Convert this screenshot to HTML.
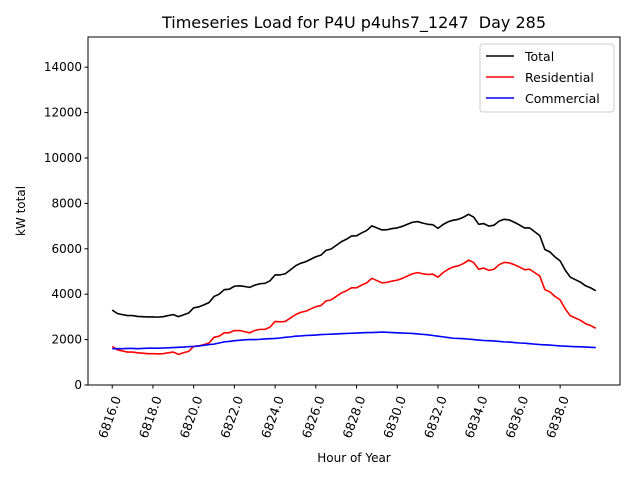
<!DOCTYPE html>
<html><head><meta charset="utf-8"><style>
body{margin:0;background:#fff;}
svg{font-family:"DejaVu Sans","Liberation Sans",sans-serif;}
</style></head><body>
<svg id="chart" width="640" height="480">
<rect width="640" height="480" fill="#fff"/>
<text x="354" y="28" font-size="16" text-anchor="middle">Timeseries Load for P4U p4uhs7_1247 &#160;Day 285</text>
<g id="plot"></g>
<rect x="88" y="37" width="532" height="348" fill="none" stroke="#000" stroke-width="1"/>
<text x="354" y="462" font-size="12" text-anchor="middle">Hour of Year</text>
<text transform="translate(25,211) rotate(-90)" font-size="12" text-anchor="middle">kW total</text>
<g>
<rect x="480" y="44" width="134" height="68" rx="3" fill="#fff" stroke="#ccc" fill-opacity="0.8"/>
<line x1="486" y1="56" x2="514" y2="56" stroke="#000" stroke-width="1.6"/>
<text x="525" y="61" font-size="12.5">Total</text>
<line x1="486" y1="77" x2="514" y2="77" stroke="#f00" stroke-width="1.6"/>
<text x="525" y="82" font-size="12.5">Residential</text>
<line x1="486" y1="98" x2="514" y2="98" stroke="#00f" stroke-width="1.6"/>
<text x="525" y="103" font-size="12.5">Commercial</text>
</g>
</svg>
<script>
const startHour = 6816;
const stepHours = 0.25;
const yTicks = [0,2000,4000,6000,8000,10000,12000,14000];
const xTicks = [6816,6818,6820,6822,6824,6826,6828,6830,6832,6834,6836,6838];
const residential = [1700,1550,1500,1450,1450,1420,1400,1380,1380,1370,1380,1420,1450,1350,1420,1480,1700,1720,1780,1850,2100,2150,2300,2300,2400,2400,2350,2300,2400,2450,2450,2550,2800,2780,2800,2950,3100,3200,3250,3350,3450,3500,3700,3750,3900,4050,4150,4280,4280,4400,4500,4700,4600,4500,4520,4580,4620,4700,4800,4900,4950,4900,4870,4880,4750,4950,5100,5200,5250,5350,5500,5400,5100,5150,5050,5100,5300,5400,5380,5300,5200,5080,5100,4950,4800,4200,4100,3900,3750,3350,3050,2950,2850,2700,2620,2500];
const commercial = [1600,1600,1600,1610,1610,1600,1610,1620,1620,1620,1630,1640,1650,1660,1670,1690,1700,1720,1750,1780,1800,1850,1900,1920,1950,1970,1990,2000,2000,2010,2030,2040,2050,2070,2100,2120,2150,2160,2180,2190,2200,2220,2230,2240,2250,2260,2270,2280,2290,2300,2310,2310,2320,2330,2320,2310,2300,2290,2280,2270,2250,2230,2210,2180,2150,2120,2090,2060,2050,2040,2020,2000,1980,1960,1950,1940,1920,1900,1890,1870,1850,1840,1820,1800,1780,1770,1760,1740,1720,1710,1700,1690,1680,1670,1660,1650];
const total = [3300,3150,3100,3060,3060,3020,3010,3000,3000,2990,3010,3060,3100,3010,3090,3170,3400,3440,3530,3630,3900,4000,4200,4220,4350,4370,4340,4300,4400,4460,4480,4590,4850,4850,4900,5070,5250,5360,5430,5540,5650,5720,5930,5990,6150,6310,6420,6560,6570,6700,6810,7010,6920,6830,6840,6890,6920,6990,7080,7170,7200,7130,7080,7060,6900,7070,7190,7260,7300,7390,7520,7400,7080,7110,7000,7040,7220,7300,7270,7170,7050,6920,6920,6750,6580,5970,5860,5640,5470,5060,4750,4640,4530,4370,4280,4150];

const NS="http://www.w3.org/2000/svg";
const L=88,R=620,T=37,B=385;
const xMin=6814.81,xMax=6840.94,yMin=0,yMax=15330;
function xs(v){return L+(v-xMin)/(xMax-xMin)*(R-L);}
function ys(v){return B-(v-yMin)/(yMax-yMin)*(B-T);}
const plot=document.getElementById('plot');
const svg=document.getElementById('chart');
function mk(tag,attrs,parent){const e=document.createElementNS(NS,tag);for(const k in attrs)e.setAttribute(k,attrs[k]);(parent||plot).appendChild(e);return e;}

yTicks.forEach(v=>{
  const y=ys(v);
  const t=mk('line',{x1:L-3.5,x2:L,y1:y,y2:y,stroke:'#000'},svg);
  
  
  const lb=mk('text',{x:L-6,y:y+4,'font-size':'12','text-anchor':'end'},svg);
  lb.textContent=String(v);
  
  
});
xTicks.forEach(v=>{
  const x=xs(v);
  const t=mk('line',{x1:x,x2:x,y1:B,y2:B+3.5,stroke:'#000'},svg);
  
  
  const lb=mk('text',{transform:`translate(${x+9},${B+13}) rotate(-70)`,'font-size':'12.5','text-anchor':'end'},svg);
  lb.textContent=v.toFixed(1);
  
  
});
function line(arr,color,name){
  const pts=arr.map((v,i)=>xs(startHour+i*stepHours).toFixed(2)+','+ys(v).toFixed(2)).join(' ');
  const p=mk('polyline',{points:pts,fill:'none',stroke:color,'stroke-width':'1.6','stroke-linejoin':'round'});
  
  
}
line(total,'#000','total-line');
line(residential,'#f00','residential-line');
line(commercial,'#00f','commercial-line');
</script>
</body></html>
